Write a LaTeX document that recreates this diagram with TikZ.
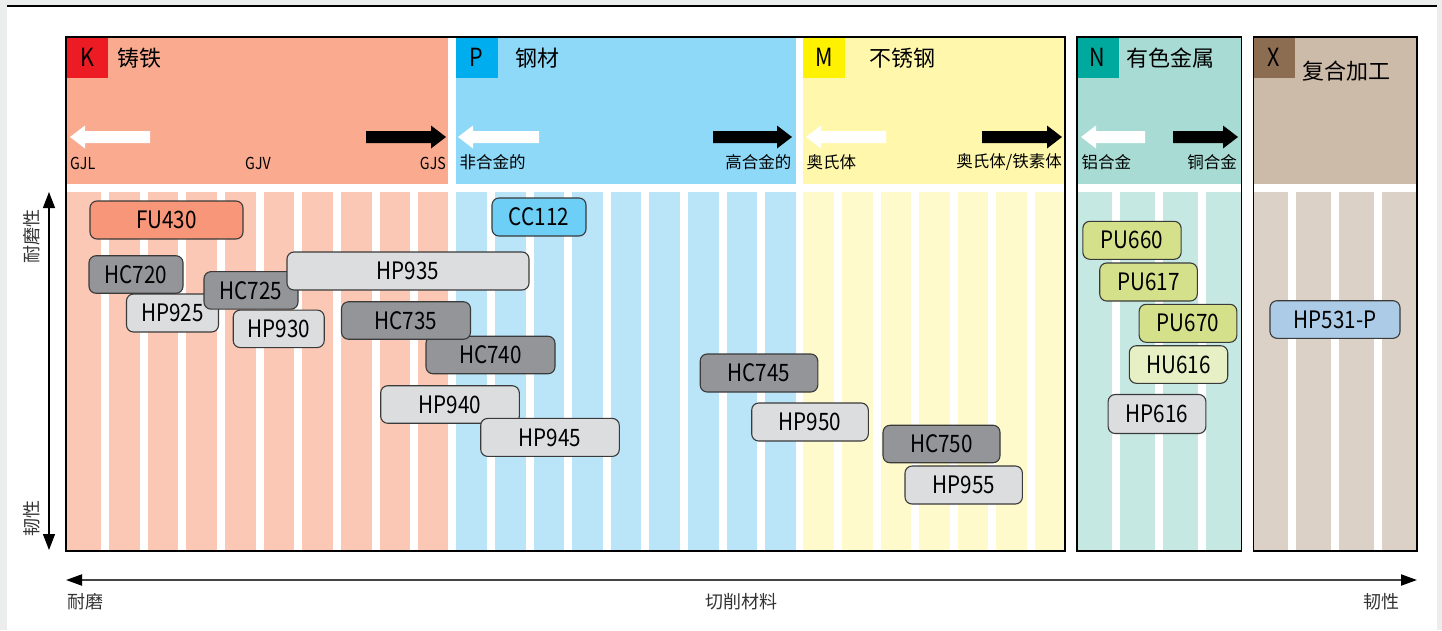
\documentclass[tikz,border=0pt]{standalone}
\usepackage{fontspec}
\setmainfont{Noto Sans CJK SC}
\newfontfamily\latf[FakeStretch=0.86]{Noto Sans CJK SC}
\usetikzlibrary{arrows.meta}
\definecolor{pagegray}{HTML}{ECEEED}
\definecolor{khead}{HTML}{F9AA8F}
\definecolor{kstripe}{HTML}{FAC8B4}
\definecolor{kbox}{HTML}{ED1C24}
\definecolor{phead}{HTML}{8ED8F8}
\definecolor{pstripe}{HTML}{BAE5F9}
\definecolor{pbox}{HTML}{00AEEF}
\definecolor{mhead}{HTML}{FFF8AC}
\definecolor{mstripe}{HTML}{FFFACC}
\definecolor{mbox}{HTML}{FFF200}
\definecolor{nhead}{HTML}{A7DBD3}
\definecolor{nstripe}{HTML}{C5E8E2}
\definecolor{nbox}{HTML}{00A99D}
\definecolor{xhead}{HTML}{CDBBAA}
\definecolor{xstripe}{HTML}{DCD1C7}
\definecolor{xbox}{HTML}{8C6D51}
\definecolor{fucol}{HTML}{F79679}
\definecolor{cccol}{HTML}{6DCFF6}
\definecolor{hccol}{HTML}{939598}
\definecolor{hpcol}{HTML}{DCDDDE}
\definecolor{pucol}{HTML}{D5E08B}
\definecolor{hucol}{HTML}{E6F0C4}
\definecolor{xpcol}{HTML}{ABCBE6}
\definecolor{nodeborder}{HTML}{3A3A3A}
\definecolor{axisgray}{HTML}{444444}
\definecolor{labgray}{HTML}{333333}
\newcommand\WArr[3]{\fill[white] (#1,#3) -- ({#1+15},{#3-11.5}) -- ({#1+15},{#3-6}) -- (#2,{#3-6}) -- (#2,{#3+6}) -- ({#1+15},{#3+6}) -- ({#1+15},{#3+11.5}) -- cycle;}
\newcommand\BArr[3]{\fill[black] (#2,#3) -- ({#2-15},{#3-11.5}) -- ({#2-15},{#3-6}) -- (#1,{#3-6}) -- (#1,{#3+6}) -- ({#2-15},{#3+6}) -- ({#2-15},{#3+11.5}) -- cycle;}
\begin{document}
\begin{tikzpicture}[x=1pt,y=-1pt,
  prod/.style={draw=nodeborder, line width=1.1pt, rounded corners=7pt, inner sep=0pt, font=\latf\fontsize{24}{24}\selectfont, text=black},
  letterbox/.style={rectangle, minimum width=42pt, minimum height=41pt, inner sep=0pt, font=\latf\fontsize{25}{25}\selectfont},
  hdr/.style={inner sep=0pt, font=\fontsize{22}{22}\selectfont},
  sublat/.style={inner sep=0pt, font=\latf\fontsize{16.5}{16.5}\selectfont},
  subcjk/.style={inner sep=0pt, font=\fontsize{16.5}{16.5}\selectfont},
  axlab/.style={inner sep=0pt, text=labgray, font=\fontsize{18}{18}\selectfont},
  frame/.style={draw=black, line width=1.3pt}]
\useasboundingbox (0,0) rectangle (1442,630);
\fill[pagegray] (0,0) rectangle (1442,630);
\fill[white] (7,7) rectangle (1436.5,630);
\draw[line width=2pt] (7,6) -- (1436.5,6);
% headers
\fill[khead] (66,37) rectangle (448,184);
\fill[phead] (456,37) rectangle (796,184);
\fill[mhead] (803,37) rectangle (1065,184);
\fill[nhead] (1077,37) rectangle (1241.5,184);
\fill[xhead] (1253.5,37) rectangle (1417,184);
% stripes
\fill[kstripe] (66,192) rectangle (448,551);
\fill[pstripe] (456,192) rectangle (796,551);
\fill[mstripe] (803,192) rectangle (1065,551);
\fill[nstripe] (1077,192) rectangle (1241.5,551);
\fill[xstripe] (1253.5,192) rectangle (1417,551);
\foreach \i in {0,...,8} {\fill[white] ({101+38.65*\i},192) rectangle ({109+38.65*\i},551);}
\foreach \i in {0,...,7} {\fill[white] ({487+38.6*\i},192) rectangle ({495+38.6*\i},551);}
\foreach \i in {0,...,5} {\fill[white] ({834+38.6*\i},192) rectangle ({842+38.6*\i},551);}
\foreach \i in {0,...,2} {\fill[white] ({1112+43*\i},192) rectangle ({1120+43*\i},551);}
\foreach \i in {0,...,2} {\fill[white] ({1288+43*\i},192) rectangle ({1296+43*\i},551);}
% letter boxes and titles
\node[letterbox, fill=kbox] (kb) at (87,57.5) {K};
\node[letterbox, fill=pbox] (pb) at (476.7,57.5) {P};
\node[letterbox, fill=mbox] (mb) at (824,57.5) {M};
\node[letterbox, fill=nbox] (nb) at (1097.5,57.5) {N};
\node[letterbox, fill=xbox] (xb) at (1274,57.5) {X};
\node[hdr] (kt) at (139,58) {铸铁};
\node[hdr] (pt) at (537,58) {钢材};
\node[hdr] (mt) at (902,58) {不锈钢};
\node[hdr] (nt) at (1170,58) {有色金属};
\node[hdr] (xt) at (1346,71) {复合加工};
% block arrows
\WArr{70}{150}{137}
\BArr{366}{446}{137}
\WArr{458}{539}{137}
\BArr{713}{792}{137}
\WArr{806}{886}{137}
\BArr{982}{1062}{137}
\WArr{1081}{1145}{137}
\BArr{1173}{1238}{137}
% arrow labels
\node[sublat, anchor=west] (gjl) at (70,163) {GJL};
\node[sublat] (gjv) at (258,163) {GJV};
\node[sublat, anchor=east] (gjs) at (446,163) {GJS};
\node[subcjk, anchor=west] (p1) at (459.5,162) {非合金的};
\node[subcjk, anchor=east] (p2) at (791.5,162) {高合金的};
\node[subcjk, anchor=west] (m1) at (806.5,162) {奥氏体};
\node[subcjk, anchor=east] (m2) at (1062,162) {奥氏体/铁素体};
\node[subcjk, anchor=west] (n1) at (1081.5,162) {铝合金};
\node[subcjk, anchor=east] (n2) at (1237,162) {铜合金};
% frames
\draw[frame] (66,37) rectangle (1065,551);
\draw[frame] (1077,37) rectangle (1241.5,551);
\draw[frame] (1253.5,37) rectangle (1417,551);
% product nodes
\node[prod, fill=fucol, minimum width=153pt, minimum height=38pt] (fu430) at (166.5,220) {FU430};
\node[prod, fill=cccol, minimum width=94pt, minimum height=38pt] (cc112) at (539,217) {CC112};
\node[prod, fill=hccol, minimum width=94pt, minimum height=37.5pt] (hc720) at (136,274.5) {HC720};
\node[prod, fill=hpcol, minimum width=92pt, minimum height=38pt] (hp925) at (172.5,313) {HP925};
\node[prod, fill=hccol, minimum width=94pt, minimum height=37.5pt] (hc725) at (251,290.4) {HC725};
\node[prod, fill=hpcol, minimum width=91pt, minimum height=37.5pt] (hp930) at (278.7,328.8) {HP930};
\node[prod, fill=hpcol, minimum width=242pt, minimum height=38pt] (hp935) at (408,271) {HP935};
\node[prod, fill=hccol, minimum width=129pt, minimum height=37.5pt] (hc740) at (490.5,355) {HC740};
\node[prod, fill=hccol, minimum width=129pt, minimum height=37.5pt] (hc735) at (406,320.5) {HC735};
\node[prod, fill=hpcol, minimum width=138.6pt, minimum height=37.5pt] (hp940) at (450,404.5) {HP940};
\node[prod, fill=hpcol, minimum width=138.6pt, minimum height=38pt] (hp945) at (550,437.4) {HP945};
\node[prod, fill=hccol, minimum width=117.6pt, minimum height=38pt] (hc745) at (759,373) {HC745};
\node[prod, fill=hpcol, minimum width=116.6pt, minimum height=38pt] (hp950) at (810,422) {HP950};
\node[prod, fill=hccol, minimum width=117pt, minimum height=37.5pt] (hc750) at (941.5,444) {HC750};
\node[prod, fill=hpcol, minimum width=117.4pt, minimum height=38pt] (hp955) at (963.7,485) {HP955};
\node[prod, fill=pucol, minimum width=98.3pt, minimum height=38pt] (pu660) at (1132,240.3) {PU660};
\node[prod, fill=pucol, minimum width=97.6pt, minimum height=38pt] (pu617) at (1148.5,282) {PU617};
\node[prod, fill=pucol, minimum width=97.7pt, minimum height=38pt] (pu670) at (1188,323.3) {PU670};
\node[prod, fill=hucol, minimum width=98.4pt, minimum height=37.6pt] (hu616) at (1178.5,364.5) {HU616};
\node[prod, fill=hpcol, minimum width=97.7pt, minimum height=39pt] (hp616) at (1157,414) {HP616};
\node[prod, fill=xpcol, minimum width=130pt, minimum height=37.6pt] (hp531) at (1335,319.5) {HP531-P};
% axes
\coordinate (vtop) at (49,192);
\coordinate (vbot) at (49,550);
\draw[line width=1.3pt, {Triangle[width=12pt,length=16pt]}-{Triangle[width=12pt,length=16pt]}] (vtop) -- (vbot);
\coordinate (hleft) at (66,580);
\coordinate (hright) at (1417,580);
\draw[draw=axisgray, line width=2pt, {Triangle[width=11pt,length=16pt,fill=black,color=black]}-{Triangle[width=11pt,length=16pt,fill=black,color=black]}] (hleft) -- (hright);
\node[axlab, rotate=90] (wear) at (31.5,236) {耐磨性};
\node[axlab, rotate=90] (tough) at (31.5,518) {韧性};
\node[axlab, anchor=west] (bwear) at (67,602) {耐磨};
\node[axlab] (bmat) at (741,602) {切削材料};
\node[axlab] (btough) at (1381,602) {韧性};
\end{tikzpicture}
\end{document}
